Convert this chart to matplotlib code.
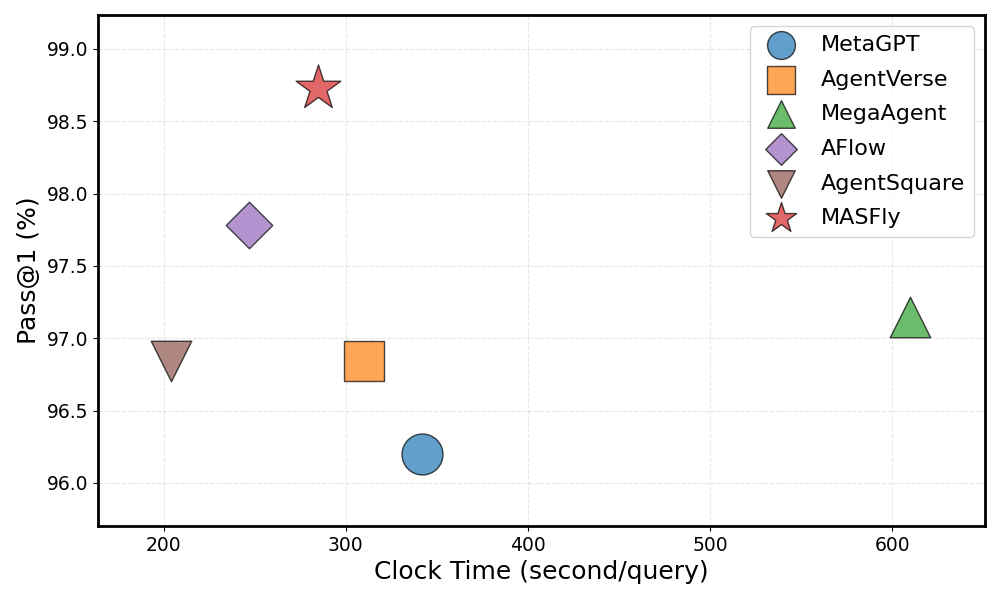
import matplotlib
matplotlib.use('Agg')
import matplotlib.pyplot as plt

methods = ['MetaGPT', 'AgentVerse', 'MegaAgent', 'AFlow', 'AgentSquare', 'MASFly']
clock_time = [342, 310, 610, 247, 204, 285]
pass_at_1 = [96.20, 96.84, 97.15, 97.78, 96.84, 98.73]
markers = ['o', 's', '^', 'D', 'v', '*']
sizes = [870, 870, 850, 560, 850, 1150]
colors = ['#1f77b4', '#ff7f0e', '#2ca02c', '#9467bd', '#8c564b', '#d62728']

fig, ax = plt.subplots(figsize=(10, 6), dpi=100)

for m, x, y, mk, s, c in zip(methods, clock_time, pass_at_1, markers, sizes, colors):
    ax.scatter(x, y, marker=mk, s=s, color=c, alpha=0.7, edgecolors='black',
               linewidths=1, label=m, zorder=3)

ax.set_xlim(164, 651)
ax.set_ylim(95.7, 99.235)
ax.set_xlabel('Clock Time (second/query)', fontsize=18)
ax.set_ylabel('Pass@1 (%)', fontsize=18)
ax.tick_params(labelsize=13.5)
ax.grid(True, linestyle='--', alpha=0.3)
for sp in ax.spines.values():
    sp.set_linewidth(2)

ax.legend(loc='upper right', fontsize=16, markerscale=0.68, labelspacing=0.66)

plt.subplots_adjust(left=0.098, right=0.985, top=0.975, bottom=0.123)
plt.savefig('out.png')
